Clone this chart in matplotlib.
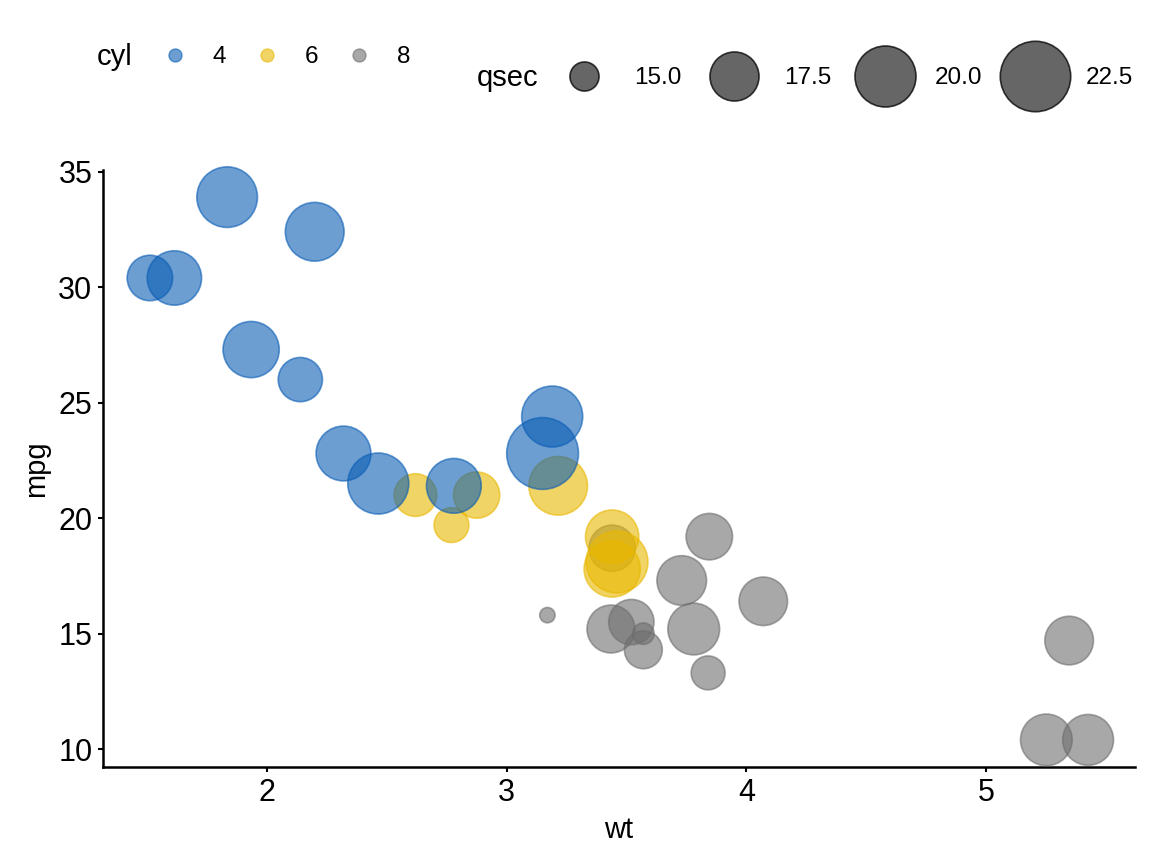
import matplotlib
matplotlib.use("Agg")
import matplotlib.pyplot as plt
from matplotlib.lines import Line2D
import numpy as np

plt.rcParams['font.family'] = ['Liberation Sans', 'DejaVu Sans']

# mtcars: wt, mpg, cyl, qsec (row order kept so overlaps stack the same way)
wt = [2.620, 2.875, 2.320, 3.215, 3.440, 3.460, 3.570, 3.190, 3.150, 3.440,
      3.440, 4.070, 3.730, 3.780, 5.250, 5.424, 5.345, 2.200, 1.615, 1.835,
      2.465, 3.520, 3.435, 3.840, 3.845, 1.935, 2.140, 1.513, 3.170, 2.770,
      3.570, 2.780]
mpg = [21.0, 21.0, 22.8, 21.4, 18.7, 18.1, 14.3, 24.4, 22.8, 19.2,
       17.8, 16.4, 17.3, 15.2, 10.4, 10.4, 14.7, 32.4, 30.4, 33.9,
       21.5, 15.5, 15.2, 13.3, 19.2, 27.3, 26.0, 30.4, 15.8, 19.7,
       15.0, 21.4]
cyl = [6, 6, 4, 6, 8, 6, 8, 4, 4, 6,
       6, 8, 8, 8, 8, 8, 8, 4, 4, 4,
       4, 8, 8, 8, 8, 4, 4, 4, 8, 6,
       8, 4]
qsec = [16.46, 17.02, 18.61, 19.44, 17.02, 20.22, 15.84, 20.00, 22.90, 18.30,
        18.90, 17.40, 17.60, 18.00, 17.98, 17.82, 17.42, 19.47, 18.52, 19.90,
        20.01, 16.87, 17.30, 15.41, 17.05, 18.90, 16.70, 16.90, 14.50, 15.50,
        14.60, 18.60]

cyl_levels = [4, 6, 8]
qsec_breaks = [15.0, 17.5, 20.0, 22.5]
palette = {4: "#0A5DB4", 6: "#E9B800", 8: "#6E6E6E"}
alpha = 0.6

DPI = 100
qmin, qmax = min(qsec), max(qsec)


def size_pt(q):
    # ggplot-like area scale: size 1..6, then to marker diameter in points
    size = 1 + 5 * np.sqrt((np.asarray(q, dtype=float) - qmin) / (qmax - qmin))
    d_px = 4 + 11.3 * size
    return d_px * 72 / DPI


fig = plt.figure(figsize=(11.52, 8.64), dpi=DPI)
ax = fig.add_axes([103 / 1152, 97 / 864, 1032 / 1152, 597 / 864])

cols = [matplotlib.colors.to_rgba(palette[c], alpha) for c in cyl]
ax.scatter(wt, mpg, s=size_pt(qsec) ** 2, c=cols, edgecolors=cols,
           linewidths=1.2, clip_on=False, zorder=3)

xr = max(wt) - min(wt)
yr = max(mpg) - min(mpg)
ax.set_xlim(min(wt) - 0.05 * xr, max(wt) + 0.05 * xr)
ax.set_ylim(min(mpg) - 0.05 * yr, max(mpg) + 0.05 * yr)
ax.set_xticks([2, 3, 4, 5])
ax.set_yticks([10, 15, 20, 25, 30, 35])

for side in ["top", "right"]:
    ax.spines[side].set_visible(False)
for side in ["left", "bottom"]:
    ax.spines[side].set_linewidth(1.8)
ax.tick_params(length=3.6, width=1.5, labelsize=22, pad=4, color="black")
ax.set_xlabel("wt", fontsize=21, labelpad=6)
ax.set_ylabel("mpg", fontsize=21, labelpad=6)

# legends
fs = 17.5
cyl_handles = [Line2D([], [], ls="none", marker="o", markersize=13 * 72 / DPI,
                      markerfacecolor=matplotlib.colors.to_rgba(palette[c], alpha),
                      markeredgecolor=matplotlib.colors.to_rgba(palette[c], alpha),
                      markeredgewidth=1.0)
               for c in cyl_levels]
leg1 = fig.legend(cyl_handles, [str(c) for c in cyl_levels], ncol=3,
                  loc="center left", bbox_to_anchor=(165 / 1152, 1 - 57 / 864),
                  frameon=False, fontsize=fs, handlelength=0.8,
                  handletextpad=1.16, columnspacing=1.27, borderpad=0,
                  borderaxespad=0)

grey = (0, 0, 0, alpha)
q_handles = [Line2D([], [], ls="none", marker="o", markersize=float(size_pt(q)),
                    markerfacecolor=grey, markeredgecolor=(0, 0, 0, 0.75),
                    markeredgewidth=1.2)
             for q in qsec_breaks]
leg2 = fig.legend(q_handles, ["%.1f" % q for q in qsec_breaks], ncol=4,
                  loc="center left", bbox_to_anchor=(549 / 1152, 1 - 78 / 864),
                  frameon=False, fontsize=fs, handlelength=2.88,
                  handletextpad=0.62, columnspacing=0.74, borderpad=0,
                  borderaxespad=0)

fig.text(97 / 1152, 1 - 57 / 864, "cyl", fontsize=21, va="center")
fig.text(477 / 1152, 1 - 78 / 864, "qsec", fontsize=21, va="center")

fig.savefig("out.png", dpi=DPI)
